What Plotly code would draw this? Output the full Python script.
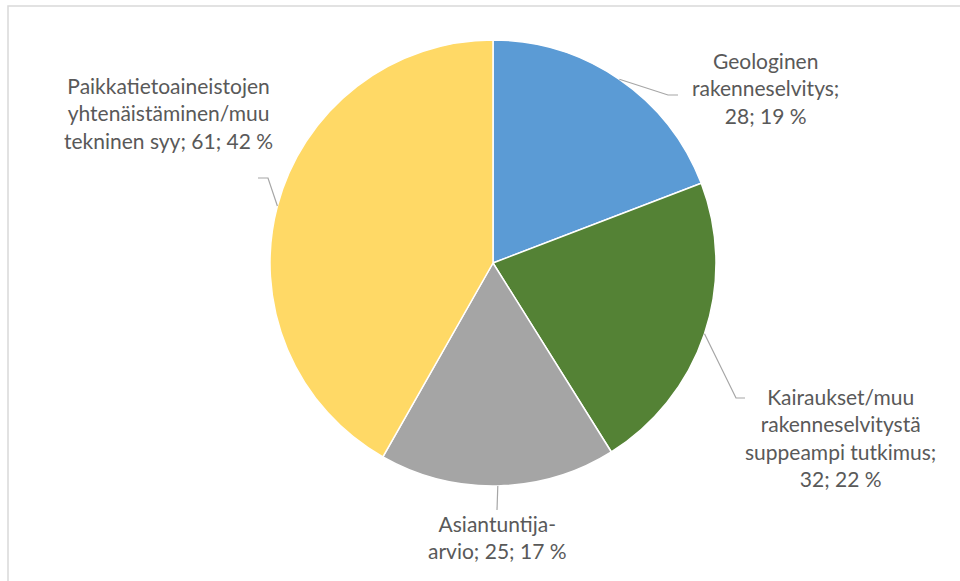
import math
import plotly.graph_objects as go

labels = ["Geologinen rakenneselvitys", "Kairaukset/muu rakenneselvitystä suppeampi tutkimus",
          "Asiantuntija-arvio", "Paikkatietoaineistojen yhtenäistäminen/muu tekninen syy"]
values = [28, 32, 25, 61]
colors = ["#5B9BD5", "#548235", "#A5A5A5", "#FFD966"]
label_texts = [
    "Geologinen<br>rakenneselvitys;<br>28; 19 %",
    "Kairaukset/muu<br>rakenneselvitystä<br>suppeampi tutkimus;<br>32; 22 %",
    "Asiantuntija-<br>arvio; 25; 17 %",
    "Paikkatietoaineistojen<br>yhtenäistäminen/muu<br>tekninen syy; 61; 42 %",
]

W, H = 960, 581
cx, cy, R = 493, 263, 223

fig = go.Figure(go.Pie(
    labels=labels, values=values, sort=False, direction="clockwise", rotation=0,
    marker=dict(colors=colors, line=dict(color="white", width=1.5)),
    textinfo="none", hoverinfo="label+value+percent", showlegend=False,
    domain=dict(x=[(cx - R) / W, (cx + R) / W], y=[1 - (cy + R) / H, 1 - (cy - R) / H]),
))

def px(x):
    return x / W

def py(y):
    return 1 - y / H

# label layout: (text center x, text center y, elbow x, elbow y, end x)
layout_pos = [
    (765, 88, 668, 95, 678),
    (840, 437, 736, 398, 745),
    (497, 537, 497, 510, 497),
    (168, 113, 268, 178, 258),
]

total = sum(values)
shapes = []
annotations = []
cum = 0
for v, txt, (tx, ty, ex, ey, endx) in zip(values, label_texts, layout_pos):
    mid = (cum + v / 2) / total * 2 * math.pi
    cum += v
    sx = cx + R * math.sin(mid)
    sy = cy - R * math.cos(mid)
    path = f"M {px(sx)},{py(sy)} L {px(ex)},{py(ey)} L {px(endx)},{py(ey)}"
    shapes.append(dict(type="path", path=path, xref="paper", yref="paper",
                       line=dict(color="#A6A6A6", width=1.2)))
    annotations.append(dict(x=px(tx), y=py(ty), xref="paper", yref="paper", text=txt,
                            showarrow=False, align="center", xanchor="center", yanchor="middle",
                            font=dict(family="Lato, Liberation Sans, sans-serif", size=21, color="#595959")))

shapes.append(dict(type="rect", xref="paper", yref="paper", x0=px(8), y0=py(6), x1=1.02, y1=-0.02,
                   line=dict(color="#D9D9D9", width=1.5), fillcolor="rgba(0,0,0,0)", layer="below"))

fig.update_layout(
    width=W, height=H, margin=dict(l=0, r=0, t=0, b=0),
    paper_bgcolor="white", plot_bgcolor="white",
    shapes=shapes, annotations=annotations,
)

fig.write_html("out.html")
